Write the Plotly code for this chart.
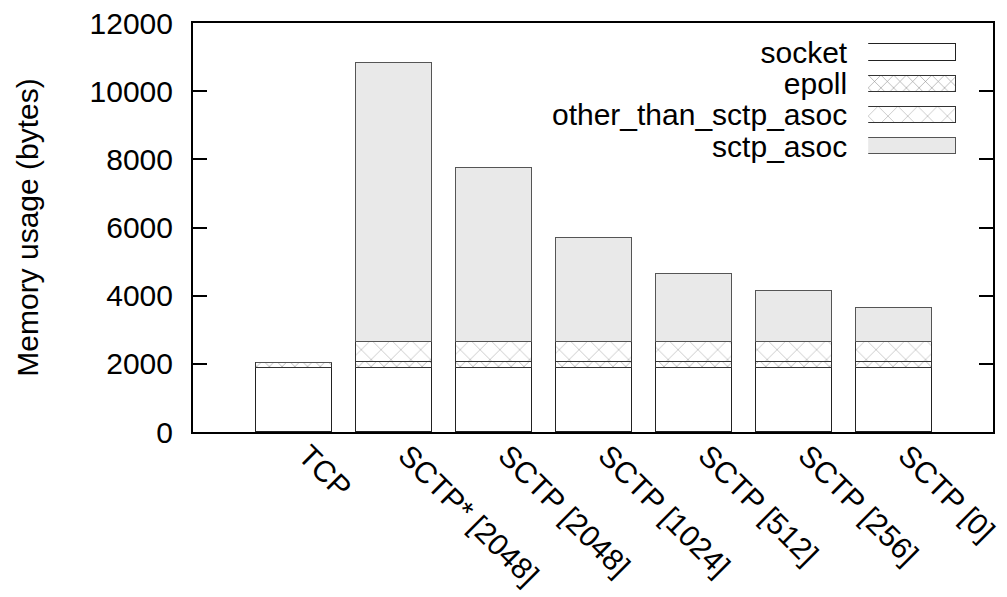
import plotly.graph_objects as go

categories = ["TCP", "SCTP* [2048]", "SCTP [2048]", "SCTP [1024]", "SCTP [512]", "SCTP [256]", "SCTP [0]"]
socket = [1880, 1880, 1880, 1880, 1880, 1880, 1880]
epoll = [150, 160, 160, 160, 160, 160, 160]
other_than_sctp_asoc = [0, 590, 590, 590, 590, 590, 590]
sctp_asoc = [0, 8200, 5120, 3050, 2020, 1510, 1010]
series_names = ["socket", "epoll", "other_than_sctp_asoc", "sctp_asoc"]
y_ticks = [0, 2000, 4000, 6000, 8000, 10000, 12000]

FONT = "Liberation Sans, Arial, Helvetica, sans-serif"
FS = 30

styles = {
    "socket": dict(color="white", line=dict(color="#222222", width=1.2)),
    "epoll": dict(color="white", line=dict(color="#333333", width=1),
                  pattern=dict(shape="x", size=9, solidity=0.12, fgcolor="#111111", bgcolor="white")),
    "other_than_sctp_asoc": dict(color="white", line=dict(color="#333333", width=1),
                                 pattern=dict(shape="x", size=14, solidity=0.06, fgcolor="#111111", bgcolor="white")),
    "sctp_asoc": dict(color="#e9e9e9", line=dict(color="#555555", width=1)),
}

x_idx = list(range(len(categories)))
fig = go.Figure()
for name, vals in zip(series_names, [socket, epoll, other_than_sctp_asoc, sctp_asoc]):
    fig.add_trace(go.Bar(x=x_idx, y=vals, name=name, marker=styles[name], width=0.755,
                         showlegend=False, hoverinfo="skip"))

# custom legend drawn as a small horizontal bar chart on secondary axes
legend_order = list(reversed(series_names))
for name in series_names:
    fig.add_trace(go.Bar(x=[1], y=[name], orientation="h", marker=styles[name], width=0.52,
                         xaxis="x2", yaxis="y2", showlegend=False, hoverinfo="skip"))

fig.update_layout(
    width=999, height=589,
    margin=dict(l=185, r=14, t=15, b=165, autoexpand=False),
    paper_bgcolor="white", plot_bgcolor="white",
    barmode="stack", bargap=0,
    font=dict(family=FONT, size=FS, color="black"),
    xaxis=dict(
        range=[-1.01, 6.99], tickmode="array", tickvals=x_idx, ticktext=categories,
        tickangle=45, ticks="", showgrid=False, zeroline=False, automargin=False,
        showline=True, linecolor="black", linewidth=2, mirror=True,
        ticklabelstandoff=-8, ticklabelshift=13, ticklabeloverflow="allow",
        tickfont=dict(family=FONT, size=FS),
    ),
    yaxis=dict(
        range=[0, 12000], tickmode="array", tickvals=y_ticks, ticktext=[str(v) for v in y_ticks],
        ticks="inside", ticklen=14, tickwidth=1.5, tickcolor="black",
        showgrid=False, zeroline=False, automargin=False,
        showline=True, linecolor="black", linewidth=2, mirror="ticks",
        ticklabelstandoff=12, ticklabeloverflow="allow",
        title=dict(text="Memory usage (bytes)", standoff=42, font=dict(family=FONT, size=FS)),
        tickfont=dict(family=FONT, size=FS),
    ),
    xaxis2=dict(domain=[0.844, 0.954], range=[0, 1], anchor="y2", visible=False, fixedrange=True),
    yaxis2=dict(domain=[0.661, 0.966], anchor="x2", range=[-0.5, 3.5], automargin=False,
                type="category", categoryorder="array", categoryarray=legend_order,
                tickmode="array", tickvals=series_names, ticktext=series_names,
                showgrid=False, zeroline=False, showline=False, ticks="",
                ticklabelstandoff=20, ticklabeloverflow="allow",
                tickfont=dict(family=FONT, size=FS)),
)

fig.write_html("out.html")
